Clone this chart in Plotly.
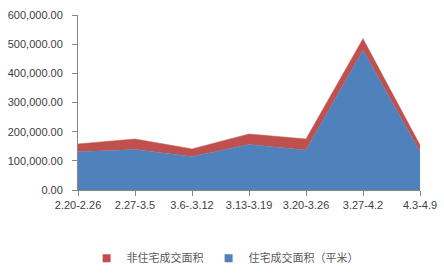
import plotly.graph_objects as go

# Weekly transaction area (square metres)
weeks = ["2.20-2.26", "2.27-3.5", "3.6-.3.12", "3.13-3.19", "3.20-3.26", "3.27-4.2", "4.3-4.9"]
residential = [131000, 139000, 115000, 156000, 137000, 479000, 131000]
non_residential = [27000, 36000, 26000, 36000, 38000, 40000, 23000]

y_ticks = [0, 100000, 200000, 300000, 400000, 500000, 600000]

BLUE = "#4F81BD"
RED = "#C0504D"
AXIS = "#868686"
TEXT = "#404040"

fig = go.Figure()
fig.add_trace(go.Scatter(
    x=weeks, y=residential, name="住宅成交面积（平米）",
    mode="lines", stackgroup="s", line=dict(width=0.5, color=BLUE),
    fillcolor=BLUE, showlegend=False,
))
fig.add_trace(go.Scatter(
    x=weeks, y=non_residential, name="非住宅成交面积",
    mode="lines", stackgroup="s", line=dict(width=0.5, color=RED),
    fillcolor=RED, showlegend=False,
))
# Square legend keys for the two series
fig.add_trace(go.Scatter(
    x=[None], y=[None], name="住宅成交面积（平米）", mode="markers",
    marker=dict(symbol="square", size=8, color=BLUE),
))
fig.add_trace(go.Scatter(
    x=[None], y=[None], name="非住宅成交面积", mode="markers",
    marker=dict(symbol="square", size=8, color=RED),
))

fig.update_layout(
    width=444, height=277,
    margin=dict(l=78, r=24, t=15, b=87),
    paper_bgcolor="white", plot_bgcolor="white",
    font=dict(family="Liberation Sans, Noto Sans CJK SC", size=11, color=TEXT),
    showlegend=True,
    legend=dict(
        orientation="h", traceorder="reversed",
        xref="container", yref="container",
        x=0.507, xanchor="center", y=0.068, yanchor="middle",
        font=dict(family="Noto Sans CJK SC", size=11, color="#595959"),
        itemwidth=30, tracegroupgap=0,
    ),
)
fig.update_xaxes(
    type="category", range=[0, len(weeks) - 1], automargin=False,
    showline=True, linecolor=AXIS, linewidth=1,
    ticks="outside", ticklen=5, tickcolor=AXIS,
    showgrid=False, zeroline=False,
    tickfont=dict(size=11, color=TEXT),
)
fig.update_yaxes(
    range=[0, 600000], tickvals=y_ticks, tickformat=",.2f", automargin=False,
    showline=True, linecolor=AXIS, linewidth=1,
    ticks="outside", ticklen=5, tickcolor=AXIS, ticklabelstandoff=7,
    showgrid=False, zeroline=False,
    tickfont=dict(size=11, color=TEXT),
)

fig.write_html("out.html")
